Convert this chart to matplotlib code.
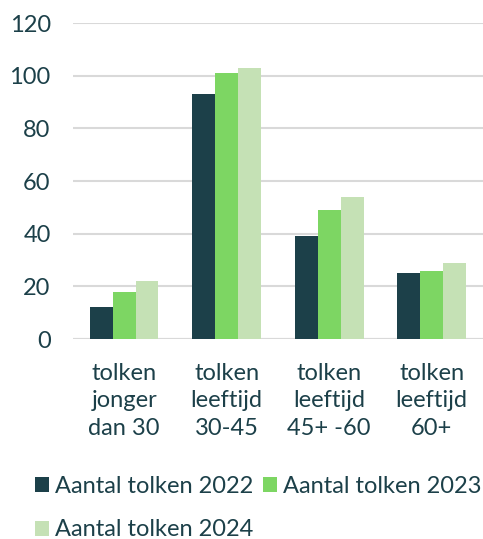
import matplotlib.pyplot as plt
import numpy as np

# Aantal tolken per leeftijdsgroep
categories = ["tolken\njonger\ndan 30", "tolken\nleeftijd\n30-45", "tolken\nleeftijd\n45+ -60", "tolken\nleeftijd\n60+"]
series_names = ["Aantal tolken 2022", "Aantal tolken 2023", "Aantal tolken 2024"]
values_2022 = [12, 93, 39, 25]
values_2023 = [18, 101, 49, 26]
values_2024 = [22, 103, 54, 29]

colors = ["#1c4049", "#7dd663", "#c5e1b5"]
text_color = "#1c4049"

plt.rcParams["font.family"] = ["Lato", "DejaVu Sans"]

fig = plt.figure(figsize=(4.83, 5.39), dpi=100)
ax = fig.add_axes([0.151, 0.371, 0.849, 0.586])

x = np.arange(len(categories))
width = 0.223
bars = []
for i, (vals, name) in enumerate(zip([values_2022, values_2023, values_2024], series_names)):
    bars.append(ax.bar(x + (i - 1) * width, vals, width, color=colors[i], label=name, zorder=3))

ax.set_xlim(-0.5, len(categories) - 0.5)
ax.set_ylim(0, 120)
ax.set_yticks(range(0, 121, 20))
ax.yaxis.grid(True, color="#d9d9d9", linewidth=1.5, zorder=0)
ax.set_axisbelow(True)

for s in ax.spines.values():
    s.set_visible(False)
ax.axhline(0, color="#d9d9d9", linewidth=1.5, zorder=1)

ax.set_xticks(x)
ax.set_xticklabels(categories, fontsize=17, color=text_color, linespacing=1.38)
ax.tick_params(axis="x", length=0, pad=17)
ax.tick_params(axis="y", length=0, pad=16, labelsize=17, labelcolor=text_color)

# legend filled row by row: 2022, 2023 on top, 2024 below
order = [0, 2, 1]
fig.legend([bars[i] for i in order], [series_names[i] for i in order],
           loc="lower left", bbox_to_anchor=(0.053, -0.02), ncol=2, frameon=False,
           fontsize=17, handlelength=0.6, handleheight=0.6, handletextpad=0.25,
           columnspacing=0.4, labelspacing=0.95, labelcolor=text_color, borderaxespad=0)

fig.savefig("out.png", dpi=100)
